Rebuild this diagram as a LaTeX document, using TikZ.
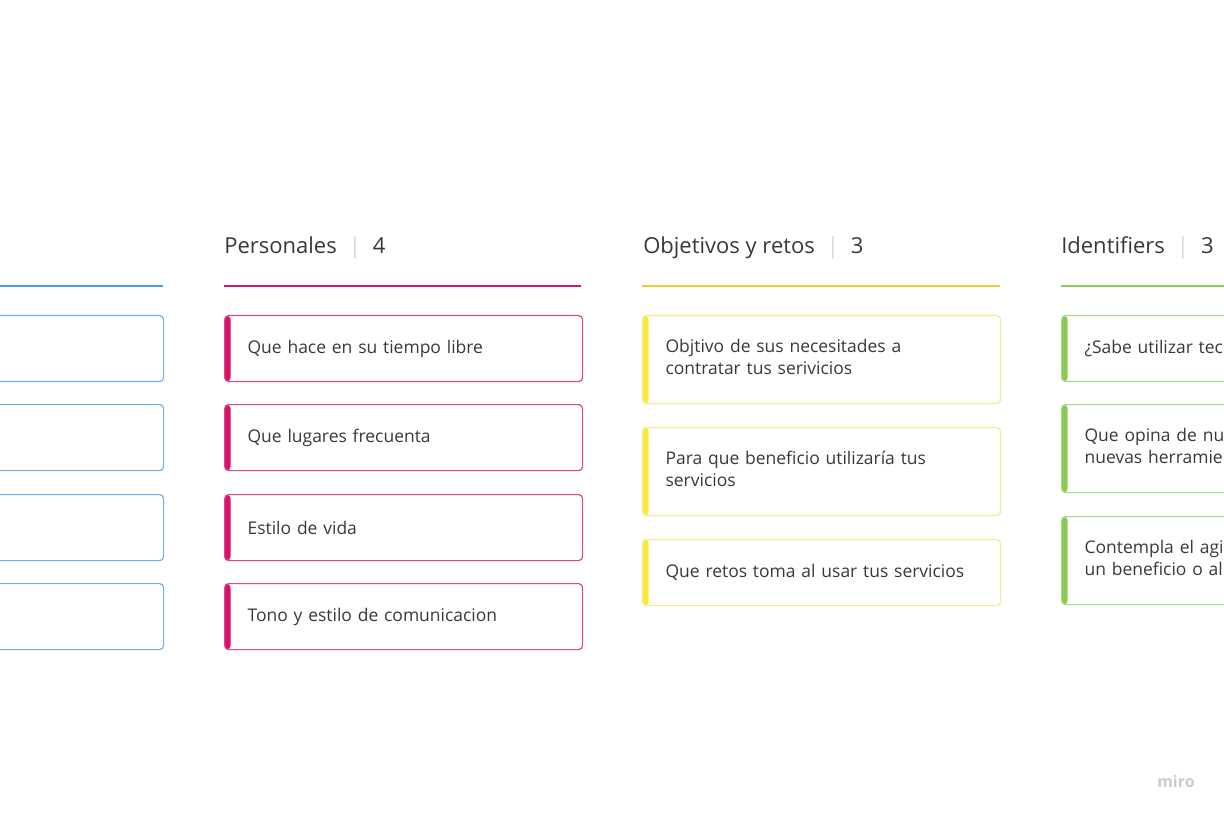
\documentclass[tikz,border=0pt]{standalone}
\usepackage{fontspec}
\setmainfont{Open Sans}
\usetikzlibrary{positioning}

\definecolor{txt}{HTML}{383838}
\definecolor{sepgray}{HTML}{D6D6D6}
\definecolor{mirogray}{HTML}{CACAD2}
\definecolor{lineB}{HTML}{4A9FE6}
\definecolor{borderB}{HTML}{6DB1EC}
\definecolor{lineP}{HTML}{D0176A}
\definecolor{barP}{HTML}{D81265}
\definecolor{borderP}{HTML}{D84A90}
\definecolor{lineY}{HTML}{F2CB30}
\definecolor{barY}{HTML}{F7EA3A}
\definecolor{borderY}{HTML}{F5EC88}
\definecolor{lineG}{HTML}{8CCB5A}
\definecolor{barG}{HTML}{8BC955}
\definecolor{borderG}{HTML}{A9D78C}
\newcommand{\lowstrut}{\rule[-4.5pt]{0pt}{4.5pt}}

\begin{document}
\begin{tikzpicture}[x=0.75pt,y=-0.75pt,
		title/.style={anchor=base west,inner sep=0pt,text=txt,font=\fontsize{16.5}{20}\selectfont},
		card/.style={anchor=north west,rounded corners=3pt,line width=0.9pt,inner xsep=17.25pt,inner ysep=0pt,
			minimum width=268.5pt,minimum height=49.5pt,text width=234pt,align=left,text=txt,
			font=\fontsize{13.1}{16.5}\selectfont},
		tall/.style={minimum height=66pt},
		sidebar/.style={path picture={\fill[#1] (path picture bounding box.north west) rectangle ([xshift=4.5pt]path picture bounding box.south west);}},
		bcard/.style={card,draw=borderB},
		pcard/.style={card,draw=borderP,sidebar=barP},
		ycard/.style={card,draw=borderY,sidebar=barY},
		gcard/.style={card,draw=borderG,sidebar=barG},
		head/.style={line width=1.5pt}]
	\useasboundingbox (0,0) rectangle (1224,816);
	\clip (0,0) rectangle (1224,816);

	% first column, cut at the left edge
	\draw[head,lineB] (-195,286) -- (163,286);
	\node[bcard] (b1) at (-195,315) {};
	\node[bcard] (b2) at (-195,404) {};
	\node[bcard] (b3) at (-195,494) {};
	\node[bcard] (b4) at (-195,583) {};

	% Personales
	\node[title] (tpers) at (224,254) {Personales\hspace{9pt}{\color{sepgray}|}\hspace{9pt}4};
	\draw[head,lineP] (224,286) -- (581,286);
	\node[pcard] (p1) at (224,315) {Que hace en su tiempo libre};
	\node[pcard] (p2) at (224,404) {Que lugares frecuenta};
	\node[pcard] (p3) at (224,494) {Estilo de vida};
	\node[pcard] (p4) at (224,583) {Tono y estilo de comunicacion};

	% Objetivos y retos
	\node[title] (tobj) at (643,254) {Objetivos y retos\hspace{9pt}{\color{sepgray}|}\hspace{9pt}3};
	\draw[head,lineY] (642,286) -- (1000,286);
	\node[ycard,tall] (y1) at (642,315) {Objtivo de sus necesitades a\\contratar tus serivicios\lowstrut};
	\node[ycard,tall] (y2) at (642,427) {Para que beneficio utilizaría tus\\servicios\lowstrut};
	\node[ycard] (y3) at (642,539) {Que retos toma al usar tus servicios};

	% Identifiers, cut at the right edge
	\node[title] (tid) at (1061,254) {Identifiers\hspace{9pt}{\color{sepgray}|}\hspace{9pt}3};
	\draw[head,lineG] (1061,286) -- (1420,286);
	\node[gcard] (g1) at (1061,315) {¿Sabe utilizar tec};
	\node[gcard,tall] (g2) at (1061,404) {Que opina de nu\\nuevas herramie\lowstrut};
	\node[gcard,tall] (g3) at (1061,516) {Contempla el agi\\un beneficio o al\lowstrut};

	\node[anchor=base west,inner sep=0pt,text=mirogray,font=\fontsize{12}{14}\selectfont\bfseries] (miro) at (1157,787) {miro};
\end{tikzpicture}
\end{document}
